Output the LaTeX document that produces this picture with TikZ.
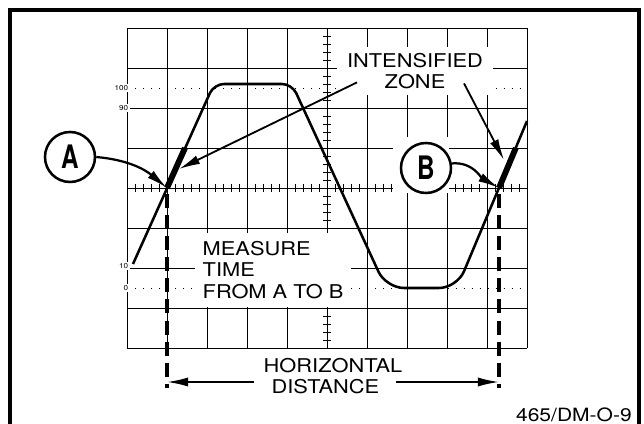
\documentclass[tikz,border=0pt]{standalone}
\usepackage{fontspec}
\setmainfont{TeX Gyre Heros}[FakeStretch=1.15]
\newfontfamily\badgefont{TeX Gyre Heros}[FakeStretch=0.75]
\usetikzlibrary{arrows.meta}

\begin{document}
\begin{tikzpicture}[
    gridline/.style={line width=0.6pt},
    dotline/.style={line width=0.7pt, dash pattern=on 0.7pt off 5pt},
    pct/.style={font=\fontsize{5}{5}\selectfont, fill=white, inner sep=1pt, anchor=east},
    caption/.style={font=\fontsize{13.5}{15}\selectfont, fill=white, align=center},
    wave/.style={line width=1.8pt, line join=round},
    izone/.style={line width=4.2pt},
    badge/.style={circle, draw, line width=1.8pt, fill=white, minimum size=1.25cm, inner sep=0pt, font=\badgefont\bfseries\fontsize{23}{23}\selectfont},
    arr/.style={-{Latex[length=15pt,width=6.5pt]}, line width=1.3pt},
    barr/.style={arr, line width=1.6pt},
    darr/.style={line width=2.6pt, dash pattern=on 10pt off 5pt},
]
    \useasboundingbox (-8.175,-5.9) rectangle (7.925,4.7);

    % Outer frame (open at the bottom)
    \draw[line width=2.4pt] (-7.925,-5.9) -- (-7.925,4.45) -- (7.8,4.45) -- (7.8,-5.9);

    % Graticule with minor ticks on the centre lines
    \draw[gridline] (-5,-4) grid (5,4);
    \foreach \t in {-4.8,-4.6,...,4.81}
        \draw[gridline] (\t,-0.09) -- (\t,0.09);
    \foreach \t in {-3.8,-3.6,...,3.81}
        \draw[gridline] (-0.09,\t) -- (0.09,\t);

    % 0% and 100% levels
    \draw[dotline] (-5,2.5) -- (5,2.5);
    \draw[dotline] (-5,-2.5) -- (5,-2.5);

    % Percentage marks
    \node[pct] (p100) at (-4.93,2.5) {100};
    \node[pct] (p90) at (-4.93,2) {90};
    \node[pct] (p10) at (-4.93,-1.95) {10};
    \node[pct] (p0) at (-4.93,-2.5) {0};

    % Texts
    \node[caption, inner xsep=7pt, inner ysep=4.5pt] (iz) at (2.2,2.925) {INTENSIFIED\\ZONE};
    \node[caption, align=left, anchor=west, inner xsep=5.3pt, inner ysep=6pt] (mt) at (-3.3,-2.05) {MEASURE\\TIME\\FROM A TO B};
    \node[caption, fill=none] (hz) at (0.15,-4.45) {HORIZONTAL};
    \node[caption, fill=none, inner xsep=12pt] (ds) at (-0.04,-4.975) {DISTANCE};
    \node[font=\fontsize{13}{13}\selectfont, anchor=east, inner sep=0pt] (figid) at (7.625,-5.66) {465/DM-O-9};

    % Clear space round B
    \node[fill=white, minimum size=1.4cm, inner sep=0pt] (Bmask) at (2.36,0.575) {};

    % Waveform
    \draw[wave] (-4.85,-1.9) [rounded corners=0.25cm] -- (-2.825,2.6) -- (-0.875,2.6)
        [rounded corners=0.45cm] -- (1.475,-2.5) -- (3.25,-2.5) -- (5,1.675);

    % Measuring points and intensified zones
    \coordinate (ptA) at (-4,0);
    \coordinate (ptB) at (4.3,0);
    \coordinate (tipA) at (-3.7,0.475);
    \coordinate (tipB) at (4.425,0.7);
    \draw[izone] (ptA) -- (-3.55,1);
    \draw[izone] (ptB) -- (4.72,1);

    % Dashed drop lines
    \coordinate (endA) at (-4,-5);
    \coordinate (endB) at (4.3,-5);
    \draw[darr] ([yshift=-0.15cm]ptA) -- (endA);
    \draw[darr] ([yshift=-0.15cm]ptB) -- (endB);

    % Badges
    \node[badge] (A) at (-6.425,0.775) {A};
    \node[badge] (B) at (2.475,0.5) {B};

    % --- Arrows ---
    \draw[arr] ([shift={(0.5,0.325)}]iz.south west) -- (tipA);
    \draw[arr] ([shift={(-0.725,0.3)}]iz.south east) -- (tipB);
    \draw[barr] (A.east) to[out=-5,in=140] (ptA);
    \draw[barr] (B.10) to[out=5,in=150] (ptB);

    % Horizontal distance
    \coordinate (hA) at (-4,-4.85);
    \coordinate (hB) at (4.3,-4.85);
    \draw[arr] (ds.west |- hA) -- (hA);
    \draw[arr] (ds.east |- hB) -- (hB);

\end{tikzpicture}
\end{document}
